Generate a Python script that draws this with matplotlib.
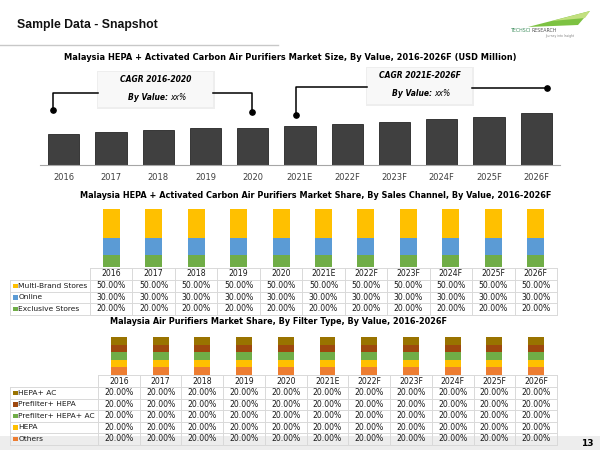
import matplotlib
matplotlib.use('Agg')
import matplotlib.pyplot as plt
import numpy as np
from matplotlib.patches import Rectangle, Polygon

plt.rcParams['font.family'] = ['DejaVu Sans']

years = ['2016', '2017', '2018', '2019', '2020', '2021E', '2022F', '2023F', '2024F', '2025F', '2026F']
market_size = [31, 33, 35, 37, 37.5, 39, 41, 43, 46, 48, 52]

# sales channel shares (%)
multi_brand = [50, 50, 50, 50, 50, 50, 50, 50, 50, 50, 50]
online = [30, 30, 30, 30, 30, 30, 30, 30, 30, 30, 30]
exclusive = [20, 20, 20, 20, 20, 20, 20, 20, 20, 20, 20]
channel_labels = ['Multi-Brand Stores', 'Online', 'Exclusive Stores']
channel_colors = ['#ffc000', '#5b9bd5', '#70ad47']

# filter type shares (%)
hepa_ac = [20, 20, 20, 20, 20, 20, 20, 20, 20, 20, 20]
prefilter_hepa = [20, 20, 20, 20, 20, 20, 20, 20, 20, 20, 20]
prefilter_hepa_ac = [20, 20, 20, 20, 20, 20, 20, 20, 20, 20, 20]
hepa = [20, 20, 20, 20, 20, 20, 20, 20, 20, 20, 20]
others = [20, 20, 20, 20, 20, 20, 20, 20, 20, 20, 20]
filter_labels = ['HEPA+ AC', 'Prefilter+ HEPA', 'Prefilter+ HEPA+ AC', 'HEPA', 'Others']
filter_colors = ['#997300', '#9e480e', '#70ad47', '#ffc000', '#ed7d31']

W, H = 600, 450
fig = plt.figure(figsize=(6, 4.5), dpi=100)
bg = fig.add_axes([0, 0, 1, 1])
bg.set_xlim(0, W)
bg.set_ylim(H, 0)
bg.axis('off')


def box(x0, y0, x1, y1):
    a = fig.add_axes([x0 / W, 1 - y1 / H, (x1 - x0) / W, (y1 - y0) / H])
    a.patch.set_alpha(0)
    return a


def fit(t, width):
    r = fig.canvas.get_renderer()
    w = t.get_window_extent(r).width
    t.set_fontsize(t.get_fontsize() * width / w)


# header
t = bg.text(17, 25, 'Sample Data - Snapshot', family='Liberation Sans', weight='bold',
            fontsize=9, va='center', color='#111111')
fit(t, 141)
bg.plot([0, 278], [45, 45], color='#c8c8c8', lw=1)

# logo
bg.add_patch(Polygon([(528, 27), (590, 11), (578, 25)], closed=True, color='#7dc242', lw=0))
bg.add_patch(Polygon([(552, 21), (590, 11), (585, 18)], closed=True, color='#c2e07f', lw=0))
bg.text(531, 31, 'TECHSCI', fontsize=3.4, color='#3f8f5f', ha='right', va='center')
bg.text(532, 31, 'RESEARCH', fontsize=3.4, color='#555555', ha='left', va='center')
bg.text(560, 35.5, 'Journey into Insight', fontsize=2.2, color='#808080', ha='center', va='center')

# bottom band + page number
bg.add_patch(Rectangle((0, 436), W, 14, color='#ededed', lw=0, zorder=0))
bg.text(587, 443, '13', fontsize=6.5, weight='bold', ha='center', va='center')

x = np.arange(len(years))

# ---- chart 1: market size
t = bg.text(290, 57, 'Malaysia HEPA + Activated Carbon Air Purifiers Market Size, By Value, 2016-2026F (USD Million)',
            ha='center', va='center', weight='bold', fontsize=6)
fit(t, 454)
ax1 = box(40, 100, 560, 165)
ax1.bar(x, market_size, width=0.66, color='#404040', edgecolor='#262626', lw=0.6)
ax1.set_xlim(-0.5, 10.5)
ax1.set_ylim(0, 65)
for s in ['top', 'left', 'right']:
    ax1.spines[s].set_visible(False)
ax1.spines['bottom'].set_color('#a6a6a6')
ax1.set_yticks([])
ax1.set_xticks(x, years, fontsize=6, color='#404040')
ax1.tick_params(axis='x', length=0, pad=5.5)

# CAGR call-outs
for (bx0, by0, bx1, by1), head, ty in [((98, 72, 213, 107), 'CAGR 2016-2020', 79),
                                       ((367, 68, 472, 104), 'CAGR 2021E-2026F', 76)]:
    bg.add_patch(Rectangle((bx0 - 1.5, by0 - 1.5), bx1 - bx0 + 3, by1 - by0 + 3, color='#eeeeee', lw=0))
    bg.add_patch(Rectangle((bx0, by0), bx1 - bx0, by1 - by0, color='#f8f8f8', lw=0))
    cx = (bx0 + bx1) / 2
    bg.text(cx, ty, head, ha='center', va='center', fontsize=5.5, weight='bold', style='italic')
    bg.text(cx + 13, ty + 18, 'By Value:', ha='right', va='center', fontsize=5.5, weight='bold', style='italic')
    bg.text(cx + 15, ty + 18, 'xx%', ha='left', va='center', fontsize=5.5, style='italic')

bg.plot([53, 53, 98], [110, 93, 93], color='black', lw=1.1)
bg.plot([213, 252, 252], [93, 93, 112], color='black', lw=1.1)
bg.plot([296, 296, 367], [115, 87, 87], color='black', lw=1.1)
bg.plot([472, 547], [88, 88], color='black', lw=1.1)
bg.plot([53, 252, 296, 547], [110, 112, 115, 88], 'o', color='black', ms=3.8)


def draw_table(x_lab, x_data, x_end, y_top, head_h, row_h, labels, colors, rows):
    n = len(years)
    cw = (x_end - x_data) / n
    y_bot = y_top + head_h + len(labels) * row_h
    gc = '#d9d9d9'
    bg.plot([x_data, x_end], [y_top, y_top], color=gc, lw=0.7)
    for i in range(len(labels) + 1):
        yy = y_top + head_h + i * row_h
        bg.plot([x_lab, x_end], [yy, yy], color=gc, lw=0.7)
    for j in range(n + 1):
        xx = x_data + j * cw
        bg.plot([xx, xx], [y_top, y_bot], color=gc, lw=0.7)
    bg.plot([x_lab, x_lab], [y_top + head_h, y_bot], color=gc, lw=0.7)
    for j, yr in enumerate(years):
        bg.text(x_data + (j + 0.5) * cw, y_top + head_h / 2, yr, ha='center', va='center',
                fontsize=5.6, color='#1a1a1a')
    for i, (lab, c, vals) in enumerate(zip(labels, colors, rows)):
        yc = y_top + head_h + (i + 0.5) * row_h
        bg.add_patch(Rectangle((x_lab + 3, yc - 2.2), 4.5, 4.5, color=c, lw=0))
        bg.text(x_lab + 8.5, yc, lab, ha='left', va='center', fontsize=5.4, color='#1a1a1a')
        for j, v in enumerate(vals):
            bg.text(x_data + (j + 0.5) * cw, yc, f'{v:.2f}%', ha='center', va='center',
                    fontsize=5.6, color='#1a1a1a')


# ---- chart 2: sales channel
t = bg.text(316, 196, 'Malaysia HEPA + Activated Carbon Air Purifiers Market Share, By Sales Channel, By Value, 2016-2026F',
            ha='center', va='center', weight='bold', fontsize=6)
fit(t, 480)
ax2 = box(90, 209, 557, 267)
bottom = np.zeros(len(years))
for vals, c in zip([exclusive, online, multi_brand], channel_colors[::-1]):
    ax2.bar(x, vals, bottom=bottom, width=0.4, color=c, lw=0)
    bottom += np.array(vals)
ax2.set_xlim(-0.5, 10.5)
ax2.set_ylim(0, 100)
ax2.axis('off')
draw_table(10, 90, 557, 268, 12, 11.5, channel_labels, channel_colors, [multi_brand, online, exclusive])

# ---- chart 3: filter type
t = bg.text(278, 321, 'Malaysia Air Purifiers Market Share, By Filter Type, By Value, 2016-2026F',
            ha='center', va='center', weight='bold', fontsize=6)
fit(t, 339)
ax3 = box(98, 337, 557, 375)
bottom = np.zeros(len(years))
for vals, c in zip([others, hepa, prefilter_hepa_ac, prefilter_hepa, hepa_ac], filter_colors[::-1]):
    ax3.bar(x, vals, bottom=bottom, width=0.38, color=c, lw=0)
    bottom += np.array(vals)
ax3.set_xlim(-0.5, 10.5)
ax3.set_ylim(0, 100)
ax3.axis('off')
draw_table(10, 98, 557, 375, 12, 11.5, filter_labels, filter_colors,
           [hepa_ac, prefilter_hepa, prefilter_hepa_ac, hepa, others])

fig.savefig('out.png', dpi=100)
